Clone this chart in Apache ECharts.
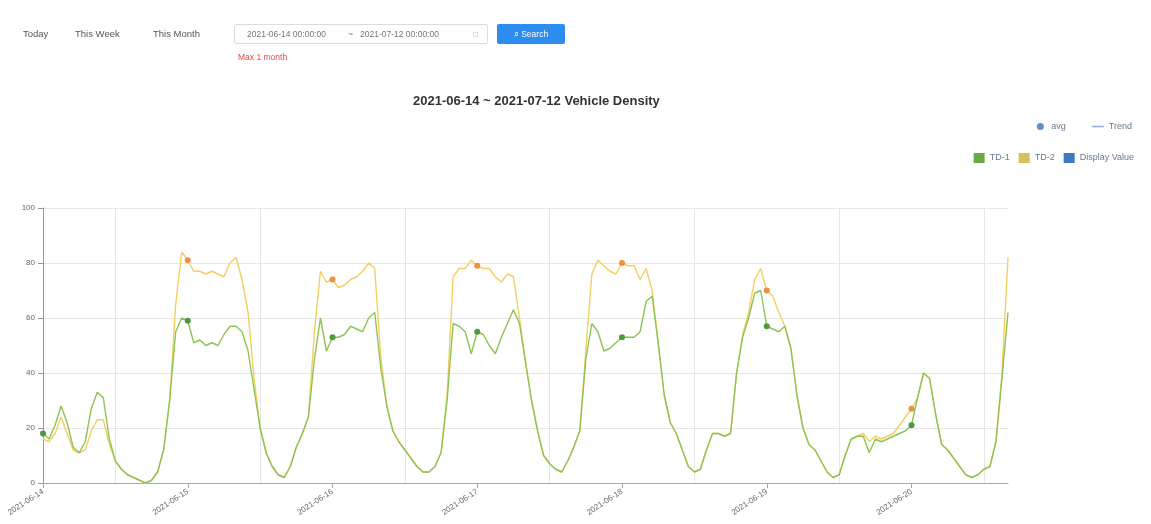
<!DOCTYPE html>
<html>
<head>
<meta charset="utf-8">
<script src="https://cdn.jsdelivr.net/npm/echarts@6/dist/echarts.min.js"></script>
<style>
  html, body { margin: 0; padding: 0; background: #fff; width: 1151px; height: 524px; overflow: hidden; font-family: "Liberation Sans", Arial, sans-serif; }
  #bar { position: absolute; left: 0; top: 0; width: 1151px; height: 70px; }
  .tab { position: absolute; top: 28px; font-size: 9.5px; color: #555; }
  #range { position: absolute; left: 234px; top: 24px; width: 252px; height: 18px; border: 1px solid #dcdcdc; border-radius: 2px; font-size: 8.5px; color: #777; }
  #range span { position: absolute; top: 4px; }
  #btn { position: absolute; left: 497px; top: 24px; width: 68px; height: 20px; background: #2d8cf0; border-radius: 2px; color: #fff; font-size: 8.5px; text-align: center; line-height: 20px; }
  #warn { position: absolute; left: 238px; top: 52px; font-size: 8.5px; color: #e5494b; }
  #chart { position: absolute; left: 0; top: 0; width: 1151px; height: 524px; }
</style>
</head>
<body>
<div id="chart"></div>
<div id="bar">
  <div class="tab" style="left:23px">Today</div>
  <div class="tab" style="left:75px">This Week</div>
  <div class="tab" style="left:153px">This Month</div>
  <div id="range"><span style="left:12px">2021-06-14 00:00:00</span><span style="left:113px">~</span><span style="left:125px">2021-07-12 00:00:00</span><span style="left:238px;color:#aaa">&#9633;</span></div>
  <div id="btn">&#8981; Search</div>
  <div id="warn">Max 1 month</div>
</div>
<script>
// hourly categories (161 points)
const days = ['2021-06-14','2021-06-15','2021-06-16','2021-06-17','2021-06-18','2021-06-19','2021-06-20'];
const yTicks = [0, 20, 40, 60, 80, 100];
const seriesNames = ['TD-1', 'TD-2'];

const td1 = [18,16,21,28,22,13,11,15,27,33,31,16,8,5,3,2,1,0,1,4,12,30,55,60,
  59,51,52,50,51,50,54,57,57,55,48,34,20,11,6,3,2,6,13,18,24,45,60,48,
  53,53,54,57,56,55,60,62,42,28,19,15,12,9,6,4,4,6,11,30,58,57,55,47,
  55,54,50,47,53,58,63,58,44,30,19,10,7,5,4,8,13,19,45,58,55,48,49,51,
  53,53,53,55,66,68,51,32,22,18,12,6,4,5,12,18,18,17,18,40,53,60,69,70,
  57,56,55,57,49,32,20,14,12,8,4,2,3,10,16,17,17,11,16,15,16,17,18,19,
  21,31,40,38,25,14,12,9,6,3,2,3,5,6,15,38,62];
const td2 = [16,15,18,24,18,12,11,12,19,23,23,14,8,5,3,2,1,0,1,4,12,30,65,84,
  81,77,77,76,77,76,75,80,82,74,62,38,20,11,6,3,2,6,13,18,24,55,77,73,
  74,71,72,74,75,77,80,78,46,28,19,15,12,9,6,4,4,6,11,32,75,78,78,81,
  79,78,78,75,73,76,75,60,44,30,19,10,7,5,4,8,13,19,48,76,81,79,77,76,
  80,79,79,74,78,70,51,32,22,18,12,6,4,5,12,18,18,17,18,40,54,62,74,78,
  70,68,62,57,49,32,20,14,12,8,4,2,3,10,16,17,18,15,17,16,17,18,21,24,
  27,31,40,38,25,14,12,9,6,3,2,3,5,6,15,40,82];

const cats = [];
for (let i = 0; i < td1.length; i++) {
  const d = days[Math.floor(i / 24)] || days[days.length - 1];
  cats.push(d + ' ' + String(i % 24).padStart(2, '0') + ':00');
}

const chart = echarts.init(document.getElementById('chart'));
const font = 'Liberation Sans, Arial, sans-serif';
const lbl = { fontSize: 8, color: '#666', fontFamily: font };
const legTxt = { fontSize: 9, color: '#6a7a90', fontFamily: font };
chart.setOption({
  animation: false,
  title: {
    text: '2021-06-14 ~ 2021-07-12 Vehicle Density',
    left: 408, top: 90,
    textStyle: { fontSize: 13, fontWeight: 'bold', color: '#333', fontFamily: font }
  },
  legend: [
    {
      right: 14, top: 117, itemWidth: 12, itemHeight: 7, itemGap: 26,
      textStyle: legTxt,
      data: [
        { name: 'avg', icon: 'circle' },
        { name: 'Trend', icon: 'path://M0,0h12v1.6h-12z' }
      ]
    },
    {
      right: 12, top: 148, itemWidth: 11, itemHeight: 10, itemGap: 9,
      textStyle: legTxt, icon: 'rect',
      data: [
        { name: 'TD-1', itemStyle: { color: '#6aaa44' } },
        { name: 'TD-2', itemStyle: { color: '#d6c05a' } },
        { name: 'Display Value' }
      ]
    }
  ],
  grid: { left: 43, right: 143, top: 208, bottom: 41, containLabel: false },
  xAxis: {
    type: 'category', data: cats, boundaryGap: false,
    axisLine: { lineStyle: { color: '#aaa' } },
    axisTick: { interval: 23, lineStyle: { color: '#aaa' } },
    axisLabel: Object.assign({ interval: 23, rotate: 33, formatter: v => v.slice(0, 10) }, lbl),
    splitLine: { show: true, interval: (i) => i % 24 === 12, lineStyle: { color: '#e6e6e6' } }
  },
  yAxis: {
    type: 'value', min: yTicks[0], max: yTicks[yTicks.length - 1], interval: 20,
    axisLine: { show: true, lineStyle: { color: '#999' } },
    axisTick: { show: true, lineStyle: { color: '#999' } },
    axisLabel: lbl,
    splitLine: { lineStyle: { color: '#e6e6e6' } }
  },
  series: [
    {
      name: 'TD-1', type: 'line', data: td1,
      showAllSymbol: true, symbol: 'circle',
      symbolSize: (v, p) => (p.dataIndex % 24 === 0 ? 6 : 0),
      itemStyle: { color: '#4c9a3c' },
      lineStyle: { color: '#8cc456', width: 1.4 }
    },
    {
      name: 'TD-2', type: 'line', data: td2,
      showAllSymbol: true, symbol: 'circle',
      symbolSize: (v, p) => (p.dataIndex % 24 === 0 && p.dataIndex > 0 ? 6 : 0),
      itemStyle: { color: '#ef9040' },
      lineStyle: { color: '#f3cf62', width: 1.4 },
      z: 1
    },
    { name: 'Display Value', type: 'bar', data: [], itemStyle: { color: '#3b7bbf' } },
    { name: 'avg', type: 'scatter', data: [], itemStyle: { color: '#3c70b8' } },
    { name: 'Trend', type: 'line', data: [], itemStyle: { color: '#8fb0d8' }, lineStyle: { color: '#8fb0d8' } }
  ]
});
</script>
</body>
</html>
